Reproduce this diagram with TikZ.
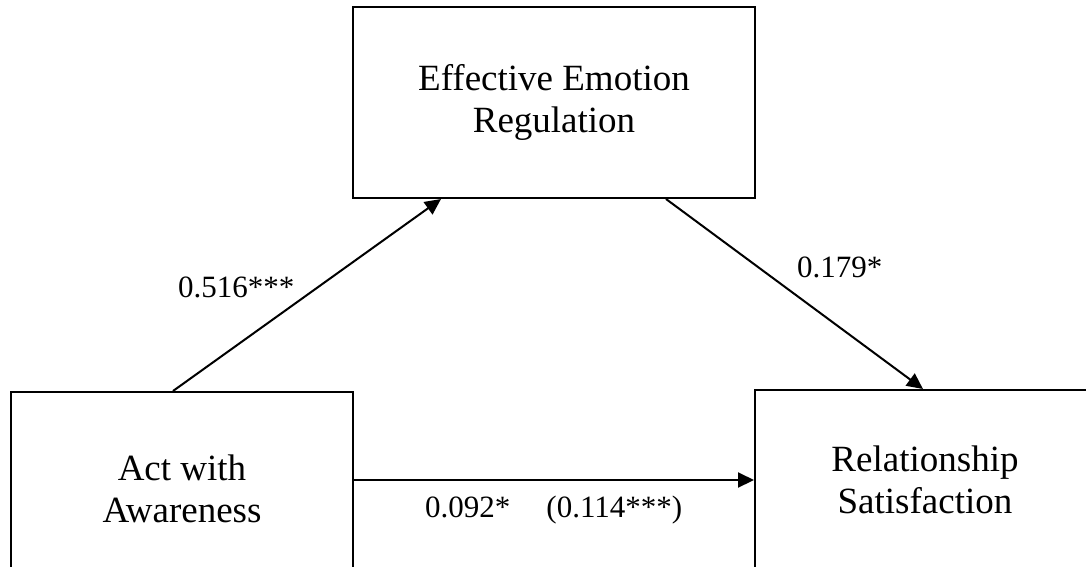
\documentclass[tikz,border=0pt]{standalone}
\usepackage{fontspec}
\setmainfont{Liberation Serif}
\usetikzlibrary{arrows.meta,calc}
\begin{document}
\begin{tikzpicture}[x=1pt,y=-1pt,
  box/.style={draw,line width=2pt,align=center,inner sep=0pt,
    font=\fontsize{37}{42}\selectfont},
  effect/.style={line width=2pt,-{Triangle[length=16pt,width=15pt]}},
  coef/.style={font=\fontsize{31}{36}\selectfont,inner sep=0pt,anchor=base west}]
\useasboundingbox (0,0) rectangle (1086,566);
\clip (0,0) rectangle (1086,566);
% variables
\node[box,minimum width=402pt,minimum height=191pt] (emo) at (554,102.5) {Effective Emotion\\Regulation};
\node[box,minimum width=342pt,minimum height=193pt] (act) at (182,488.5) {Act with\\Awareness};
\node[box,minimum width=340pt,minimum height=179pt] (sat) at (925,479.5) {Relationship\\Satisfaction};
% paths
\draw[effect] ([xshift=-9pt]act.north) -- ([xshift=89pt]emo.south west);
\draw[effect] ([xshift=-90pt]emo.south east) -- ([xshift=-2pt]sat.north);
\draw[effect] ([yshift=8.5pt]act.east) -- ([yshift=8.5pt]act.east -| sat.west);
% coefficients
\node[coef] (ca) at (178,297) {0.516***};
\node[coef] (cb) at (797,277) {0.179*};
\node[coef] (cc) at (425,517) {0.092*\hspace{36pt}(0.114***)};
\end{tikzpicture}
\end{document}
